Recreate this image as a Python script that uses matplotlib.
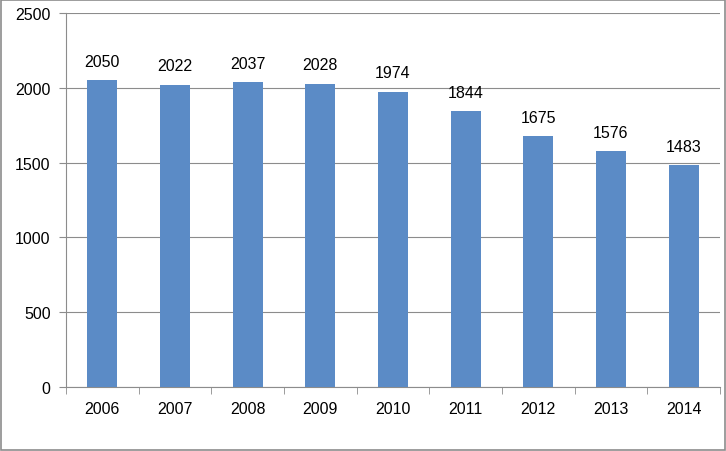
import numpy as np
import matplotlib
matplotlib.use("Agg")
import matplotlib.pyplot as plt
from matplotlib.patches import Rectangle

years = ["2006", "2007", "2008", "2009", "2010", "2011", "2012", "2013", "2014"]
values = [2050, 2022, 2037, 2028, 1974, 1844, 1675, 1576, 1483]

BAR = "#5B8BC6"
GRID = "#8C8C8C"
plt.rcParams["font.family"] = ["Liberation Sans", "DejaVu Sans"]
plt.rcParams["font.size"] = 11.5

fig = plt.figure(figsize=(7.26, 4.52), dpi=100)
ax = fig.add_axes([66 / 726, 64 / 452, 654 / 726, 374 / 452])

x = np.arange(len(years))
ax.bar(x, values, width=0.41, color=BAR, zorder=3)
for xi, v in zip(x, values):
    ax.text(xi, v + 75, str(v), ha="center", va="bottom")

ax.set_xlim(-0.5, len(years) - 0.5)
ax.set_ylim(0, 2500)
ax.set_yticks(range(0, 2501, 500))
ax.yaxis.grid(True, color=GRID, lw=0.8, zorder=0)
ax.set_xticks(x)
ax.set_xticklabels(years)
ax.set_xticks(np.arange(-0.5, len(years)), minor=True)
ax.tick_params(axis="x", which="major", length=0, pad=10)
ax.tick_params(axis="x", which="minor", length=5, color=GRID)
ax.tick_params(axis="y", length=5, color=GRID, pad=6)
for side in ("top", "right"):
    ax.spines[side].set_visible(False)
for side in ("left", "bottom"):
    ax.spines[side].set_color(GRID)

fig.patches.append(Rectangle((0.001, 0.002), 0.997, 0.995, transform=fig.transFigure,
                             fill=False, edgecolor="#8C8C8C", lw=1.2))
fig.savefig("out.png", dpi=100)
